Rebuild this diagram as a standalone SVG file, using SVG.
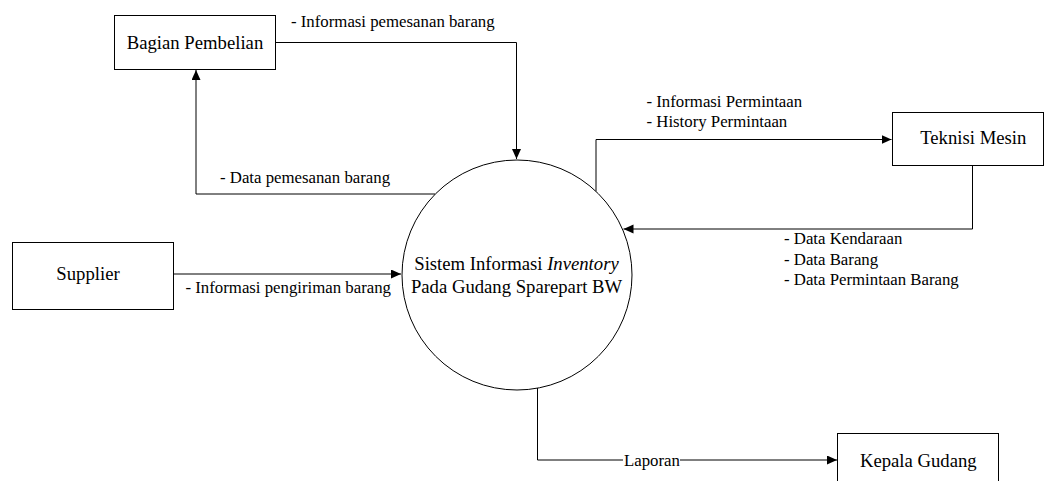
<svg xmlns="http://www.w3.org/2000/svg" width="1044" height="481" viewBox="0 0 1044 481">
<style>
.box{fill:#fff;stroke:#000;stroke-width:1}
.ln{fill:none;stroke:#000;stroke-width:1}
.nt{font-family:"Liberation Serif","Times New Roman",serif;font-size:18.7px;fill:#000;text-anchor:middle}
.lb{font-family:"Liberation Serif","Times New Roman",serif;font-size:16.8px;fill:#000}
</style>
<defs>
<marker id="arr" markerUnits="userSpaceOnUse" markerWidth="11" markerHeight="10" refX="10" refY="4.5" orient="auto">
<path d="M0,0 L10,4.5 L0,9 z" fill="#000"/>
</marker>
</defs>
<rect x="0" y="0" width="1044" height="481" fill="#fff"/>
<g id="connectors">
<path class="ln" d="M276,42.5 H516.5 V159" marker-end="url(#arr)"/>
<path class="ln" d="M435.4,194 H196 V70" marker-end="url(#arr)"/>
<path class="ln" d="M173,274 H401" marker-end="url(#arr)"/>
<path class="ln" d="M596,191.4 V139.5 H891.5" marker-end="url(#arr)"/>
<path class="ln" d="M972.5,166 V229 H623.5" marker-end="url(#arr)"/>
<path class="ln" d="M537.5,388 V460 H837" marker-end="url(#arr)"/>
<rect x="623" y="450" width="57" height="20" fill="#fff"/>
<text class="lb" x="291" y="26.7">- Informasi pemesanan barang</text>
<text class="lb" x="220" y="183.3">- Data pemesanan barang</text>
<text class="lb" x="185.5" y="293.3">- Informasi pengiriman barang</text>
<text class="lb" x="646.5" y="106.7">- Informasi Permintaan</text>
<text class="lb" x="646.5" y="127.3">- History Permintaan</text>
<text class="lb" x="784" y="244">- Data Kendaraan</text>
<text class="lb" x="784" y="265">- Data Barang</text>
<text class="lb" x="784" y="285">- Data Permintaan Barang</text>
<text class="lb" x="624" y="466">Laporan</text>
</g>
<g id="bagian-pembelian">
<rect class="box" x="114.5" y="15.5" width="161" height="54"/>
<text class="nt" x="195" y="49.3">Bagian Pembelian</text>
</g>
<g id="supplier">
<rect class="box" x="12.5" y="242.5" width="161" height="67"/>
<text class="nt" x="88" y="280">Supplier</text>
</g>
<g id="teknisi-mesin">
<rect class="box" x="892.5" y="112.5" width="151" height="53"/>
<text class="nt" x="973.3" y="144">Teknisi Mesin</text>
</g>
<g id="kepala-gudang">
<rect class="box" x="837.5" y="433.5" width="161" height="60"/>
<text class="nt" x="918.3" y="467.3">Kepala Gudang</text>
</g>
<g id="sistem">
<circle class="box" cx="517" cy="275" r="115"/>
<text class="nt" x="516.5" y="270">Sistem Informasi <tspan font-style="italic">Inventory</tspan></text>
<text class="nt" x="516.5" y="293">Pada Gudang Sparepart BW</text>
</g>
</svg>
